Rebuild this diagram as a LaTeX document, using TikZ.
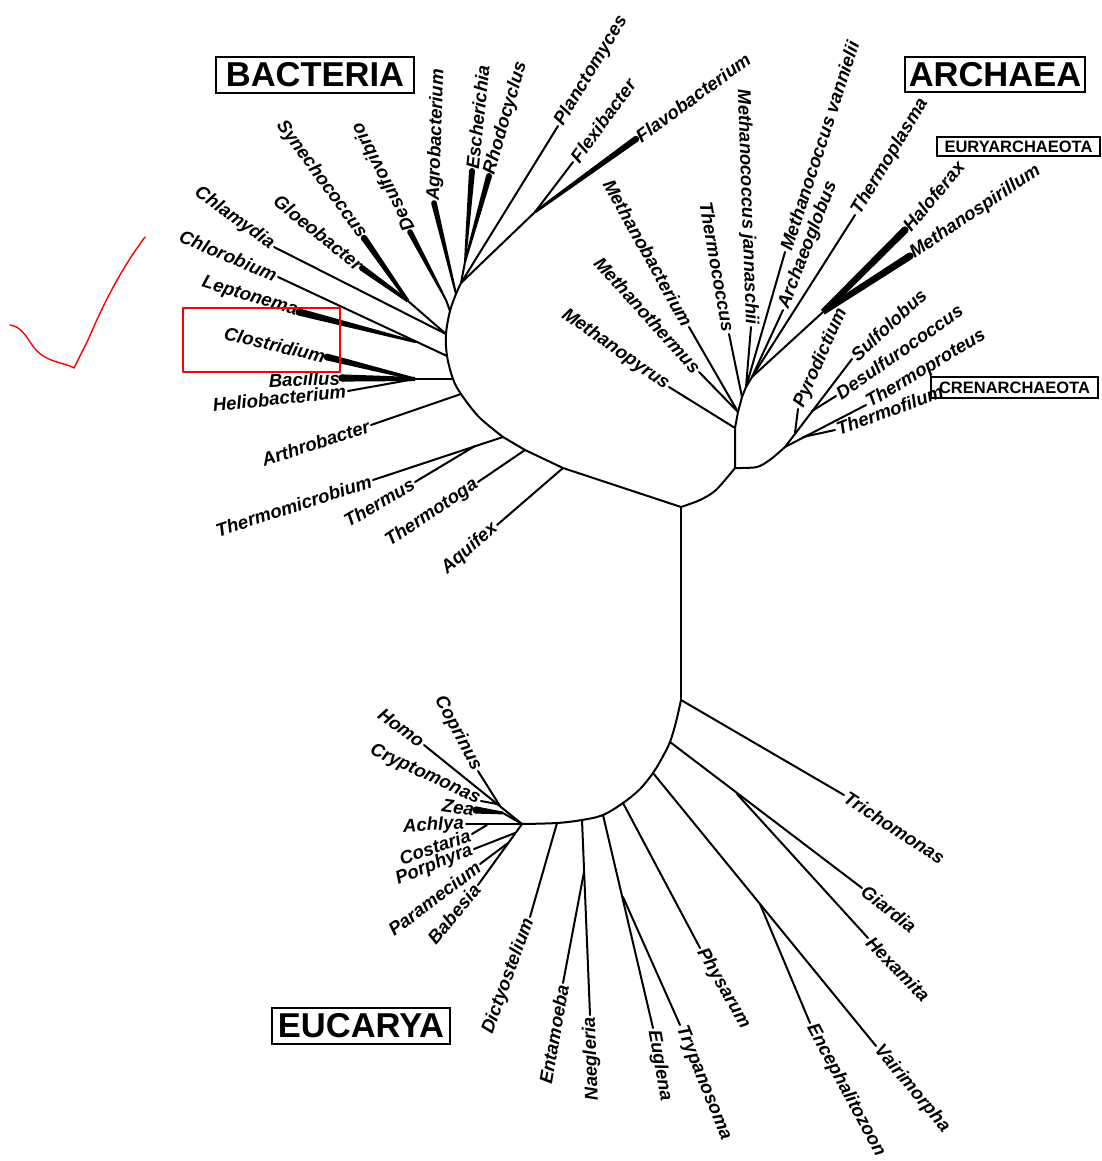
\documentclass[tikz,border=0pt]{standalone}
\usepackage{fontspec}
\setmainfont{Liberation Sans}
\usetikzlibrary{calc}
\newcommand\taperline[4]{\fill ($#1!#3!90:#2$) -- ($#2!#4!-90:#1$) -- ($#2!#4!90:#1$) -- ($#1!#3!-90:#2$) -- cycle; \fill #1 circle[radius=#3];}
\begin{document}
\begin{tikzpicture}[x=1pt,y=-1pt,
  br/.style={line width=2pt, line cap=round, line join=round},
  leaf/.style={font=\fontsize{18.5}{21}\selectfont\bfseries\itshape, inner sep=2pt},
  dom/.style={draw, line width=1.4pt, font=\fontsize{34.5}{38}\selectfont\bfseries, inner sep=0pt},
  subdom/.style={draw, line width=1.2pt, font=\fontsize{16.5}{18}\selectfont\bfseries, inner sep=0pt},
  redink/.style={draw=red, line width=1.4pt, line cap=round, line join=round}]
\fill[white] (0,0) rectangle (1102,1161);
\useasboundingbox (0,0) rectangle (1102,1161);

% ---------- leaves ----------
\foreach \nm/\px/\py/\rot/\anc/\lbl in {
 chla/274/247/-36/east/Chlamydia,
 chlo/278/277/-23/east/Chlorobium,
 lept/299/312/-17/east/Leptonema,
 clos/327/357/-13/east/Clostridium,
 baci/342/378/2/east/Bacillus,
 heli/348/391/6/east/Heliobacterium,
 arth/371/425/18/east/Arthrobacter,
 tmic/373/480/18/east/Thermomicrobium,
 ther/415/482/30/east/Thermus,
 ttog/478/482/34/east/Thermotoga,
 aqui/497/525/41/east/Aquifex,
 syne/364/238/-54/east/Synechococcus,
 gloe/362/268/-39/east/Gloeobacter,
 desu/410/232/117/west/Desulfovibrio,
 agro/434/203/88/west/Agrobacterium,
 esch/472/171/84/west/Escherichia,
 rhod/489/176/74/west/Rhodocyclus,
 plan/558/126/59/west/Planctomyces,
 flex/573/162/54/west/Flexibacter,
 flav/636/139/36/west/Flavobacterium,
 mpyr/669/387/-35/east/Methanopyrus,
 mthe/699/372/-48/east/Methanothermus,
 mbac/689/327/-61/east/Methanobacterium,
 tcoc/729/334/-80/east/Thermococcus,
 mjan/751/327/-88/east/Methanococcus jannaschii,
 mvan/785/252/72/west/Methanococcus vannielii,
 aglo/783/310/69/west/Archaeoglobus,
 tpla/855/215/59/west/Thermoplasma,
 halo/905/230/50/west/Haloferax,
 mspi/910/256/34/west/Methanospirillum,
 pyro/798/409/66/west/Pyrodictium,
 sulf/852/359/43/west/Sulfolobus,
 desf/836/396/35/west/Desulfurococcus,
 tpro/866/405/31/west/Thermoproteus,
 tfil/835/430/20/west/Thermofilum,
 tric/844/795/-33/west/Trichomonas,
 giar/862/888/-38/west/Giardia,
 hexa/868/938/-46/west/Hexamita,
 vair/876/1046/-50/west/Vairimorpha,
 ence/810/1023/-62/west/Encephalitozoon,
 phys/700/948/-60/west/Physarum,
 tryp/680/1025/-68/west/Trypanosoma,
 eugl/653/1028/-80/west/Euglena,
 naeg/590/1015/92/east/Naegleria,
 enta/563/983/80/east/Entamoeba,
 dict/530/917/70/east/Dictyostelium,
 babe/478/885/50/east/Babesia,
 para/480/864/37/east/Paramecium,
 porp/474/849/22/east/Porphyra,
 cost/472/834/19/east/Costaria,
 achl/466/824/3/east/Achlya,
 zea/476/810/-8/east/Zea,
 cryp/481/801/-25/east/Cryptomonas,
 homo/424/745/-37/east/Homo,
 copr/478/771/-62/east/Coprinus}
{
 \coordinate (\nm) at (\px,\py);
 \node[leaf, anchor=\anc, rotate=\rot] (l\nm) at (\nm) {\lbl};
}

% ---------- junctions ----------
\coordinate (T) at (681,507);
\coordinate (TB) at (681,700);
\coordinate (B1) at (461,283);
\coordinate (B2) at (456,294);
\coordinate (B3) at (450,311);
\coordinate (B4) at (446,334);
\coordinate (B5) at (447,356);
\coordinate (B6) at (453,379);
\coordinate (B7) at (461,394);
\coordinate (B8) at (479,417);
\coordinate (B9) at (503,437);
\coordinate (B10) at (525,450);
\coordinate (B11) at (563,468);
\coordinate (ER) at (465,262);
\coordinate (FF) at (535,212);
\coordinate (DE) at (446,300);
\coordinate (SG) at (408,301);
\coordinate (LP) at (416,342);
\coordinate (CB) at (415,379);
\coordinate (TM) at (475,446);

\coordinate (A1) at (700,500);
\coordinate (A2) at (716,490);
\coordinate (A0) at (735,468);
\coordinate (E1) at (735,428);
\coordinate (E2) at (738,412);
\coordinate (E3) at (742,397);
\coordinate (E4) at (746,387);
\coordinate (E5) at (752,377);
\coordinate (HM) at (823,312);
\coordinate (C1) at (757,467);
\coordinate (C2) at (771,459);
\coordinate (C0) at (785,447);
\coordinate (DS) at (812,411);
\coordinate (PY) at (795,433);
\coordinate (TF) at (803,437);

\coordinate (U1) at (676,722);
\coordinate (K1) at (670,742);
\coordinate (U2) at (662,758);
\coordinate (K2) at (653,773);
\coordinate (U3) at (640,789);
\coordinate (K3) at (623,803);
\coordinate (K4) at (603,815);
\coordinate (K5) at (582,820);
\coordinate (K6) at (557,823);
\coordinate (K) at (522,824);
\coordinate (GH) at (737,794);
\coordinate (VE) at (760,904);
\coordinate (ET) at (623,897);
\coordinate (NE) at (584,872);
\coordinate (HC) at (500,806);
\coordinate (CR) at (497,804);
\coordinate (ZK) at (503,813);
\coordinate (CO) at (487,825);
\coordinate (PO) at (515,833);
\coordinate (PA) at (508,843);

% ---------- Bacteria ----------
\draw[br] plot[smooth, tension=0.55] coordinates {(B1) (B2) (B3) (B4) (B5) (B6) (B7) (B8) (B9)} -- (B10) -- (B11) -- (T);
\taperline{(esch)}{(ER)}{3pt}{1pt}
\taperline{(rhod)}{(ER)}{3pt}{1pt}
\draw[br] (ER) -- (B1);
\draw[br] (plan) -- (B1);
\draw[br] (flex) -- (FF);
\taperline{(flav)}{(FF)}{3.2pt}{1.4pt}
\draw[br] (FF) -- (B1);
\taperline{(agro)}{(B2)}{2.8pt}{1pt}
\taperline{(desu)}{(DE)}{2.8pt}{1pt}
\draw[br] (DE) -- (B3);
\taperline{(syne)}{(SG)}{3.2pt}{1.6pt}
\taperline{(gloe)}{(SG)}{3pt}{1.6pt}
\draw[br] (SG) -- (B4);
\draw[br] (chla) -- (B4);
\draw[br] (chlo) -- (B5);
\taperline{(lept)}{(LP)}{3.6pt}{1.2pt}
\taperline{(clos)}{(CB)}{3.4pt}{1.4pt}
\taperline{(baci)}{(CB)}{3.6pt}{2pt}
\draw[br] (heli) -- (CB);
\draw[br] (CB) -- (B6);
\draw[br] (arth) -- (B7);
\draw[br] (tmic) -- (B9);
\draw[br] (ther) -- (TM);
\draw[br] (ttog) -- (B10);
\draw[br] (aqui) -- (B11);

% ---------- Archaea ----------
\draw[br] plot[smooth, tension=0.5] coordinates {(T) (A1) (A2) (A0)};
\draw[br] (A0) -- (E1) -- (E2) -- (E3) -- (E4) -- (E5);
\draw[br] (mpyr) -- (E1);
\draw[br] (mbac) -- (E2);
\draw[br] (mthe) -- (E2);
\draw[br] (tcoc) -- (E3);
\draw[br] (mjan) -- (E4);
\draw[br] (mvan) -- (E4);
\draw[br] (aglo) -- (E5);
\draw[br] (tpla) -- (E5);
\taperline{(halo)}{(HM)}{3.6pt}{3pt}
\taperline{(mspi)}{(HM)}{3.6pt}{3pt}
\draw[br] (HM) -- (E5);
\draw[br] plot[smooth, tension=0.5] coordinates {(A0) (C1) (C2) (C0)};
\draw[br] (sulf) -- (C0);
\draw[br] (desf) -- (DS);
\draw[br] (pyro) -- (PY);
\draw[br] (tpro) -- (C0);
\draw[br] (tfil) -- (TF);

% ---------- Eucarya ----------
\draw[br] (T) -- (TB);
\draw[br] plot[smooth, tension=0.55] coordinates {(TB) (U1) (K1) (U2) (K2) (U3) (K3) (K4) (K5) (K6) (K)};
\draw[br] (tric) -- (TB);
\draw[br] (giar) -- (K1);
\draw[br] (hexa) -- (GH);
\draw[br] (vair) -- (K2);
\draw[br] (ence) -- (VE);
\draw[br] (phys) -- (K3);
\draw[br] (eugl) -- (K4);
\draw[br] (tryp) -- (ET);
\draw[br] (naeg) -- (K5);
\draw[br] (enta) -- (NE);
\draw[br] (dict) -- (K6);
\draw[br] (homo) -- (K);
\draw[br] (copr) -- (HC);
\draw[br] (cryp) -- (CR);
\taperline{(zea)}{(ZK)}{3.6pt}{1.4pt}
\draw[br] (ZK) -- (K);
\draw[br] (achl) -- (K);
\draw[br] (cost) -- (CO);
\draw[br] (porp) -- (PO);
\draw[br] (para) -- (PA);
\draw[br] (babe) -- (K);

% ---------- domain boxes ----------
\node[dom, minimum width=198pt, minimum height=36pt] (bxbact) at (315,75) {BACTERIA};
\node[dom, minimum width=180pt, minimum height=35pt] (bxarch) at (995,74.5) {ARCHAEA};
\node[subdom, minimum width=163pt, minimum height=19pt] (bxeury) at (1018.5,146.5) {EURYARCHAEOTA};
\node[subdom, minimum width=167pt, minimum height=21pt] (bxcren) at (1014.5,387.5) {CRENARCHAEOTA};
\node[dom, minimum width=178pt, minimum height=36pt] (bxeuca) at (361,1026) {EUCARYA};

% ---------- red annotation ----------
\draw[redink] (183,308) rectangle (340,372);
\draw[redink] (10,325) .. controls (28,328) and (28,348) .. (45,357) .. controls (55,363) and (68,364) .. (74,368) -- (88,340) .. controls (105,300) and (122,268) .. (145,237);
\end{tikzpicture}
\end{document}
